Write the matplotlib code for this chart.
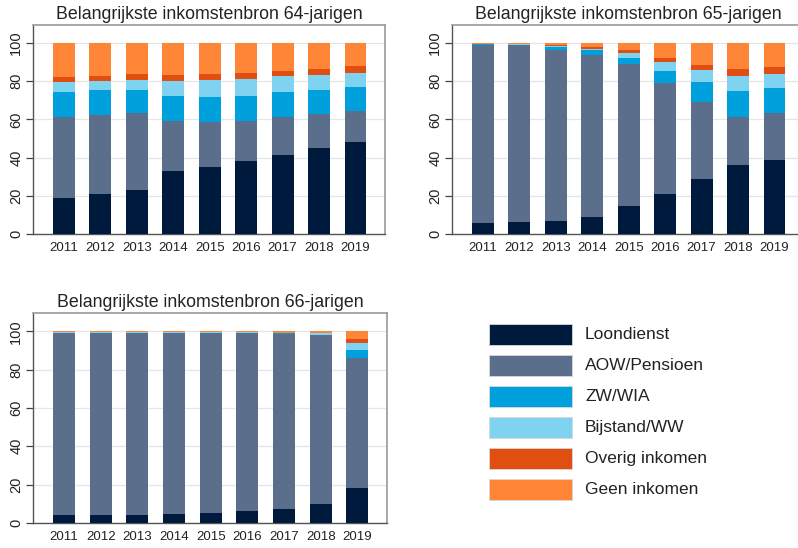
import matplotlib
matplotlib.use("Agg")
import matplotlib.pyplot as plt
from matplotlib.patches import Rectangle
import numpy as np

plt.rcParams['font.family'] = ['Liberation Sans', 'DejaVu Sans']

years = ["2011", "2012", "2013", "2014", "2015", "2016", "2017", "2018", "2019"]
categories = ["Loondienst", "AOW/Pensioen", "ZW/WIA", "Bijstand/WW", "Overig inkomen", "Geen inkomen"]
colors = ["#001a3d", "#5b6e8c", "#00a0dc", "#7fd2f0", "#e04e12", "#ff8636"]

titles = ["Belangrijkste inkomstenbron 64-jarigen",
          "Belangrijkste inkomstenbron 65-jarigen",
          "Belangrijkste inkomstenbron 66-jarigen"]

# 64-jarigen
loon_64 = [18.7, 20.8, 23.0, 32.9, 35.2, 38.1, 41.6, 44.9, 48.2]
aow_64 = [42.5, 41.6, 40.3, 26.4, 23.6, 21.2, 19.9, 17.8, 16.3]
zw_64 = [13.3, 13.0, 12.4, 13.1, 13.1, 13.1, 12.7, 13.0, 12.6]
bij_64 = [5.2, 4.8, 5.2, 7.8, 8.7, 8.7, 8.5, 7.8, 7.3]
ov_64 = [2.3, 2.5, 2.8, 3.0, 3.1, 3.3, 2.7, 3.2, 3.5]
geen_64 = [18.0, 17.3, 16.3, 16.8, 16.3, 15.6, 14.6, 13.3, 12.1]

# 65-jarigen
loon_65 = [5.7, 6.1, 6.9, 8.7, 14.7, 21.1, 28.6, 35.9, 39.0]
aow_65 = [93.4, 92.7, 89.6, 84.9, 74.2, 57.8, 40.6, 25.6, 24.3]
zw_65 = [0.4, 0.3, 1.4, 2.6, 3.5, 6.4, 10.3, 13.4, 13.0]
bij_65 = [0.1, 0.2, 0.5, 0.5, 2.4, 4.8, 6.6, 7.9, 7.4]
ov_65 = [0.2, 0.2, 0.4, 1.2, 1.4, 2.1, 2.6, 3.9, 3.8]
geen_65 = [0.2, 0.5, 1.2, 2.1, 3.8, 7.8, 11.3, 13.3, 12.5]

# 66-jarigen
loon_66 = [4.2, 4.3, 4.3, 4.5, 5.0, 6.4, 7.3, 9.7, 18.3]
aow_66 = [94.9, 94.8, 94.8, 94.6, 94.1, 92.7, 91.3, 88.2, 67.8]
zw_66 = [0.2, 0.2, 0.2, 0.2, 0.2, 0.2, 0.4, 0.3, 4.3]
bij_66 = [0.1, 0.1, 0.1, 0.1, 0.1, 0.1, 0.1, 0.7, 3.5]
ov_66 = [0.1, 0.1, 0.1, 0.1, 0.1, 0.1, 0.2, 0.3, 1.8]
geen_66 = [0.5, 0.5, 0.5, 0.5, 0.5, 0.5, 0.7, 0.8, 4.3]

panels = [
    [loon_64, aow_64, zw_64, bij_64, ov_64, geen_64],
    [loon_65, aow_65, zw_65, bij_65, ov_65, geen_65],
    [loon_66, aow_66, zw_66, bij_66, ov_66, geen_66],
]

W, H = 798, 548
fig = plt.figure(figsize=(W / 100, H / 100), dpi=100)

def px_rect(left, top, right, bottom):
    return [left / W, (H - bottom) / H, (right - left) / W, (bottom - top) / H]

rects = [px_rect(33, 25, 385, 234),
         px_rect(452, 25, 804, 234),
         px_rect(33, 313, 387, 523)]

for rect, title, data in zip(rects, titles, panels):
    ax = fig.add_axes(rect)
    x = np.arange(len(years))
    bottom = np.zeros(len(years))
    for vals, col in zip(data, colors):
        vals = np.array(vals)
        ax.bar(x, vals, bottom=bottom, width=0.6, color=col, edgecolor='none', zorder=3)
        bottom += vals
    ax.set_xlim(-0.85, 8.81)
    ax.set_ylim(0, 109.5)
    ax.set_yticks([0, 20, 40, 60, 80, 100])
    ax.set_xticks(x)
    ax.set_xticklabels(years, fontsize=9.5, color='#222222')
    ax.tick_params(axis='x', length=0, pad=6)
    ax.tick_params(axis='y', length=5, width=0.9, color='#444444', pad=2,
                   labelsize=10.5, labelcolor='#222222')
    for lab in ax.get_yticklabels():
        lab.set_rotation(90)
        lab.set_va('center')
    ax.grid(axis='y', color='#e6e6e6', linewidth=0.9, zorder=0)
    ax.set_axisbelow(True)
    for side in ['left', 'bottom']:
        ax.spines[side].set_color('#555555')
        ax.spines[side].set_linewidth(1.0)
    for side in ['top', 'right']:
        ax.spines[side].set_color('#9a9a9a')
        ax.spines[side].set_linewidth(1.2)
    ax.set_title(title, fontsize=12.8, color='#222222', pad=4)

# Legend drawn on the figure
box_left, box_w, box_h = 489, 83, 21
first_top, step = 324, 31
for i, (cat, col) in enumerate(zip(categories, colors)):
    top = first_top + i * step
    fig.patches.append(Rectangle((box_left / W, (H - top - box_h) / H), box_w / W, box_h / H,
                                 transform=fig.transFigure, facecolor=col,
                                 edgecolor='#d8d8d8', linewidth=0.6))
    fig.text(585 / W, (H - top - box_h / 2) / H, cat, fontsize=12.5, color='#222222',
             va='center', ha='left')

fig.savefig("out.png", dpi=100)
